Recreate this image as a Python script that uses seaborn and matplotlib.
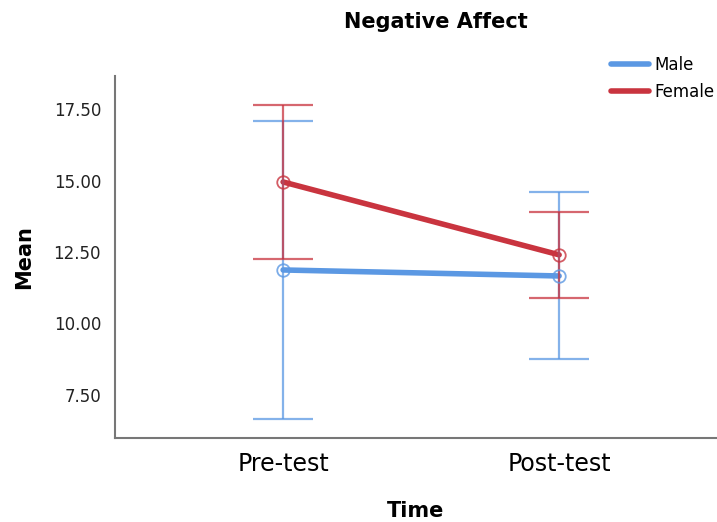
import matplotlib
matplotlib.use("Agg")
import matplotlib.pyplot as plt
import numpy as np
import pandas as pd
import seaborn as sns

# values
times = ["Pre-test", "Post-test"]
groups = ["Male", "Female"]
male_mean = [11.87, 11.66]
male_low = [6.64, 8.74]
male_high = [17.09, 14.60]
female_mean = [14.95, 12.40]
female_low = [12.26, 10.89]
female_high = [17.64, 13.90]

colors = {"Male": "#5b98e3", "Female": "#c9343f"}

df = pd.DataFrame({
    "Time": times * 2,
    "Group": ["Male"] * 2 + ["Female"] * 2,
    "Mean": male_mean + female_mean,
    "low": male_low + female_low,
    "high": male_high + female_high,
})

sns.set_style("white")
plt.rcParams["font.family"] = ["DejaVu Sans"]
plt.rcParams["text.color"] = "black"

fig = plt.figure(figsize=(7.17, 5.22), dpi=100)
ax = fig.add_axes([0.1604, 0.1615, 0.8396, 0.693])

sns.lineplot(data=df, x="Time", y="Mean", hue="Group", hue_order=groups,
             palette=colors, linewidth=4, ax=ax, legend=False, sort=False)

for g in groups:
    sub = df[df["Group"] == g]
    x = np.arange(len(sub))
    m = sub["Mean"].values
    err = [m - sub["low"].values, sub["high"].values - m]
    ax.errorbar(x, m, yerr=err, fmt="none", ecolor=colors[g], elinewidth=1.6,
                capsize=21.5, capthick=1.6, alpha=0.75, zorder=3)
    ax.plot(x, m, "o", ms=9, mfc="none", mec=colors[g], mew=1.3, alpha=0.8, zorder=4)

ax.set_xlim(-0.609, 1.572)
ax.set_ylim(6.0, 18.66)
yt = [7.5, 10.0, 12.5, 15.0, 17.5]
ax.set_yticks(yt)
ax.set_yticklabels([f"{v:.2f}" for v in yt], fontsize=12, color="#222222")
ax.set_xticks([0, 1])
ax.set_xticklabels(times, fontsize=17, color="black")
ax.tick_params(axis="x", length=0, pad=10)
ax.tick_params(axis="y", length=0, pad=10)

for s in ["top", "right"]:
    ax.spines[s].set_visible(False)
for s in ["left", "bottom"]:
    ax.spines[s].set_color("#777777")
    ax.spines[s].set_linewidth(1.5)

ax.set_xlabel("Time", fontsize=15, fontweight="bold", labelpad=18, color="black")
ax.set_ylabel("Mean", fontsize=15, fontweight="bold", labelpad=14, color="black")
fig.text(0.608, 0.958, "Negative Affect", ha="center", va="center",
         fontsize=15, fontweight="bold", color="black")

handles = [plt.Line2D([], [], color=colors[g], lw=4) for g in groups]
fig.legend(handles, groups, loc="upper left", bbox_to_anchor=(0.852, 0.893),
           frameon=False, fontsize=12, handlelength=2.3, handletextpad=0.3,
           labelspacing=0.55, borderaxespad=0, borderpad=0)

fig.savefig("out.png", dpi=100)
